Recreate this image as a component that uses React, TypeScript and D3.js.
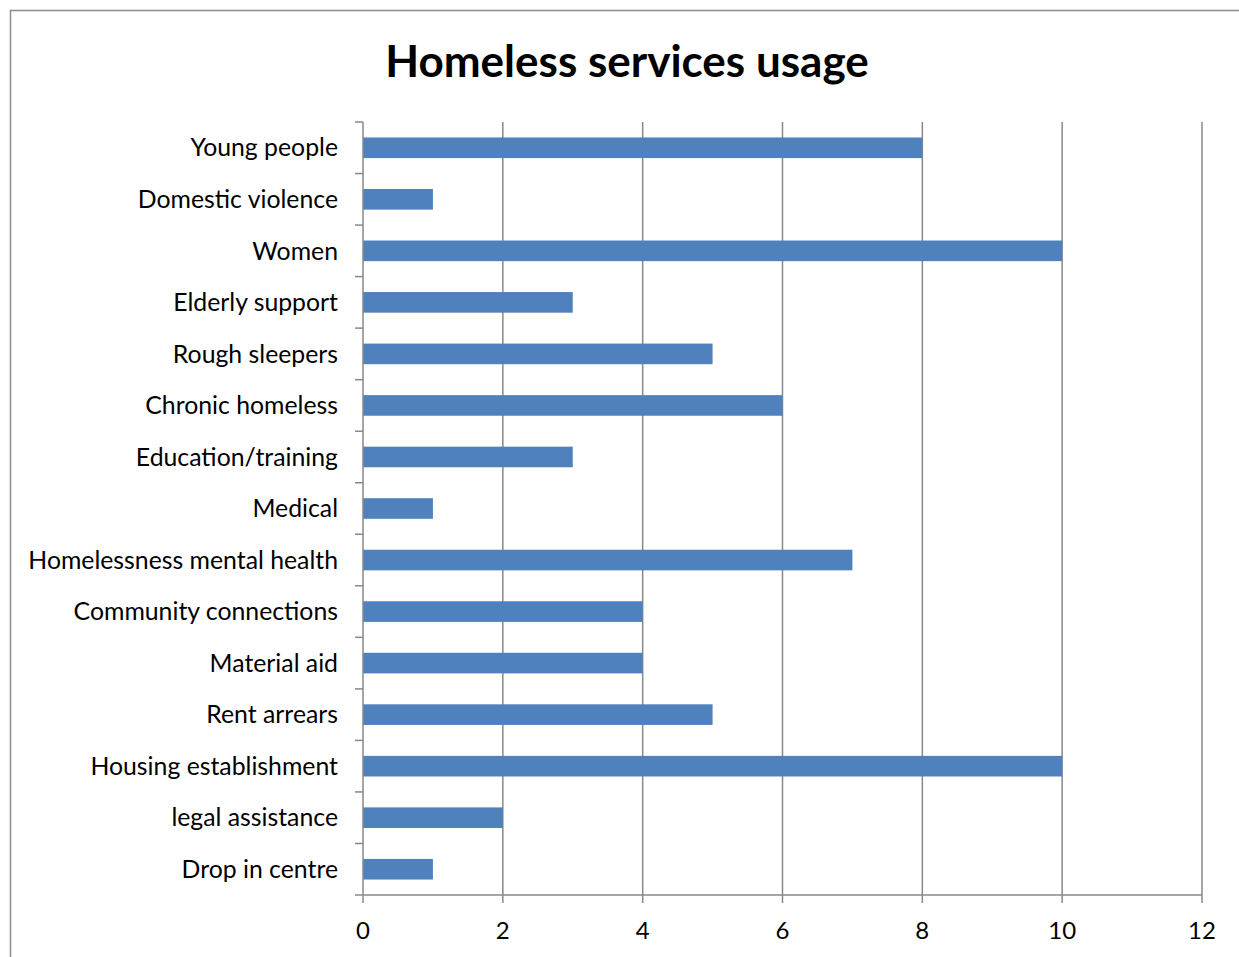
import React from "react";
import * as d3 from "d3";

const categories = [
  "Young people",
  "Domestic violence",
  "Women",
  "Elderly support",
  "Rough sleepers",
  "Chronic homeless",
  "Education/training",
  "Medical",
  "Homelessness mental health",
  "Community connections",
  "Material aid",
  "Rent arrears",
  "Housing establishment",
  "legal assistance",
  "Drop in centre",
];
const values = [8, 1, 10, 3, 5, 6, 3, 1, 7, 4, 4, 5, 10, 2, 1];
const xTicks = [0, 2, 4, 6, 8, 10, 12];
const title = "Homeless services usage";

const W = 1239;
const H = 957;
const left = 363;
const right = 1202;
const top = 122;
const bottom = 895;
const font = "Lato, 'Open Sans', sans-serif";

export default function App() {
  const x = d3.scaleLinear().domain([0, 12]).range([left, right]);
  const y = d3
    .scaleBand<string>()
    .domain(categories)
    .range([top, bottom])
    .paddingInner(0.6)
    .paddingOuter(0.3);
  const band = (bottom - top) / categories.length;
  const grid = "#888888";
  return (
    <svg
      width={W}
      height={H}
      style={{ position: "absolute", left: 0, top: 0, background: "#fff" }}
    >
      <rect x={0} y={0} width={W} height={H} fill="#fff" />
      <rect
        x={10.5}
        y={10.5}
        width={W + 20}
        height={H + 20}
        fill="none"
        stroke="#8c8c8c"
        strokeWidth={1.5}
      />
      <text
        x={627}
        y={77}
        textAnchor="middle"
        fontFamily={font}
        fontWeight="bold"
        fontSize={44}
        fill="#000"
      >
        {title}
      </text>
      {xTicks.map((t) => (
        <g key={t}>
          {t !== 0 && (
            <line
              x1={x(t)}
              x2={x(t)}
              y1={top}
              y2={bottom}
              stroke={grid}
              strokeWidth={1.5}
            />
          )}
          <line
            x1={x(t)}
            x2={x(t)}
            y1={bottom}
            y2={bottom + 8}
            stroke={grid}
            strokeWidth={1.5}
          />
          <text
            x={x(t)}
            y={939}
            textAnchor="middle"
            fontFamily={font}
            fontSize={24}
            fill="#000"
          >
            {t}
          </text>
        </g>
      ))}
      {categories.map((c, i) => (
        <rect
          key={c}
          x={x(0)}
          y={y(c)!}
          width={x(values[i]) - x(0)}
          height={y.bandwidth()}
          fill="#4F81BD"
        />
      ))}
      {d3.range(categories.length + 1).map((i) => (
        <line
          key={i}
          x1={left - 8}
          x2={left}
          y1={top + i * band}
          y2={top + i * band}
          stroke={grid}
          strokeWidth={1.5}
        />
      ))}
      <line x1={left} x2={left} y1={top} y2={bottom} stroke={grid} strokeWidth={1.5} />
      <line x1={left} x2={right} y1={bottom} y2={bottom} stroke={grid} strokeWidth={1.5} />
      {categories.map((c) => (
        <text
          key={c}
          x={338}
          y={y(c)! + y.bandwidth() / 2}
          dy="0.35em"
          textAnchor="end"
          fontFamily={font}
          fontSize={24.8}
          fill="#000"
        >
          {c}
        </text>
      ))}
    </svg>
  );
}
